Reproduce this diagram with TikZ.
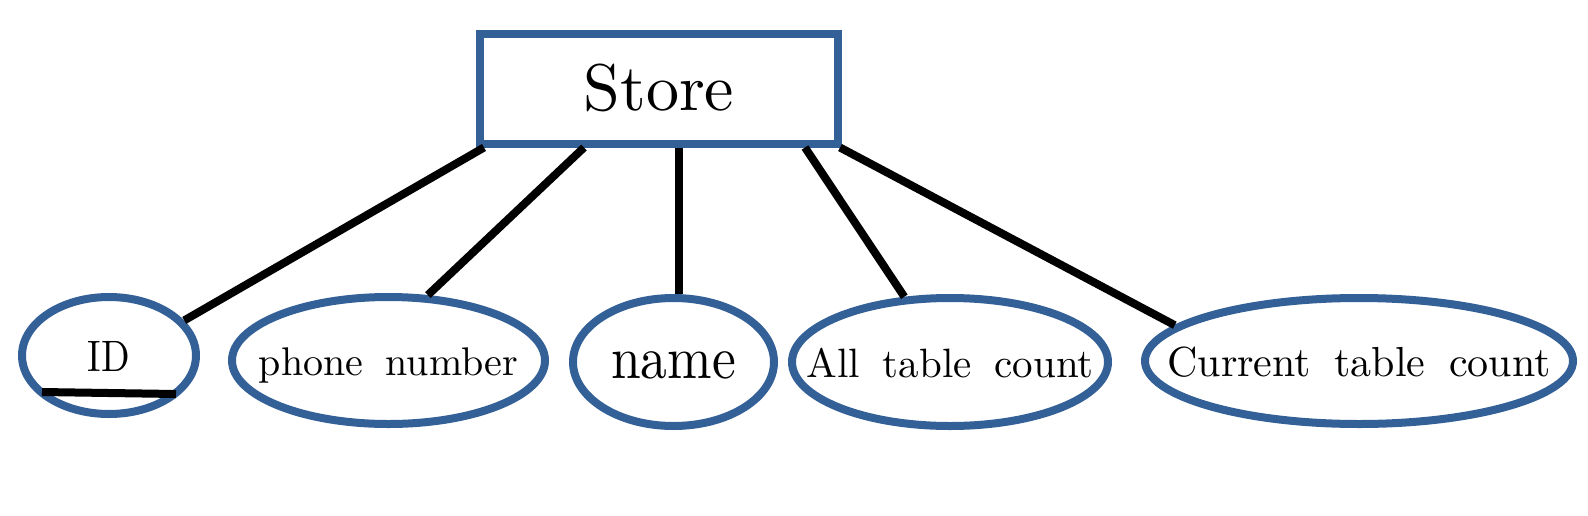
\documentclass[tikz,border=0pt]{standalone}
\usepackage{graphicx}
\usepackage{fontspec}
\setmainfont{lmroman10-regular.otf}
\usetikzlibrary{shapes.geometric}
\definecolor{erblue}{RGB}{52,96,152}
\newcommand{\ws}{\hspace{0.56em}}
\begin{document}
\begin{tikzpicture}[x=1pt,y=-1pt,
  entity/.style={draw=erblue, line width=8pt, rectangle, minimum width=358pt,
    minimum height=110pt, inner sep=0pt, text height=43pt, text depth=0pt,
    font=\fontsize{66}{70}\selectfont},
  attr/.style={draw=erblue, line width=8pt, ellipse, inner sep=0pt,
    text height=30pt, text depth=0pt, font=\fontsize{42}{46}\selectfont},
  conn/.style={draw=black, line width=8pt}]
\useasboundingbox (0,0) rectangle (1588,515);
\node[entity] (store) at (659,88.5) {Store};
\node[attr, minimum width=174pt, minimum height=117pt, text height=31pt,
  font=\fontsize{44}{48}\selectfont] (id) at (109,355.5)
  {\makebox[0pt]{\scalebox{0.85}[1]{ID}}};
\node[attr, minimum width=313pt, minimum height=127pt,
  font=\fontsize{40}{44}\selectfont] (phone) at (388.5,360.5)
  {\makebox[0pt]{phone\ws number}};
\node[attr, minimum width=201pt, minimum height=128pt, text height=32pt,
  font=\fontsize{60}{64}\selectfont] (name) at (673.5,362)
  {\makebox[0pt]{\scalebox{0.89}[1]{name}}};
\node[attr, minimum width=316pt, minimum height=128pt,
  font=\fontsize{41}{45}\selectfont] (allt) at (950,362)
  {\makebox[0pt]{All\ws table\ws count}};
\node[attr, minimum width=428pt, minimum height=126pt] (cur) at (1359,361)
  {\makebox[0pt]{Current\ws table\ws count}};
\draw[conn] ([shift={(-67,36.5)}]id.center) -- ([shift={(67,38.5)}]id.center);
\draw[conn] ([xshift=8pt]store.south west) -- (id.25);
\draw[conn] ([xshift=-75pt]store.south) -- (phone.59);
\draw[conn] (name.85 |- store.south) -- (name.85);
\draw[conn] ([xshift=-37pt]store.south east) -- (allt.125);
\draw[conn] ([xshift=-2pt]store.south east) -- (cur.169);
\end{tikzpicture}
\end{document}
